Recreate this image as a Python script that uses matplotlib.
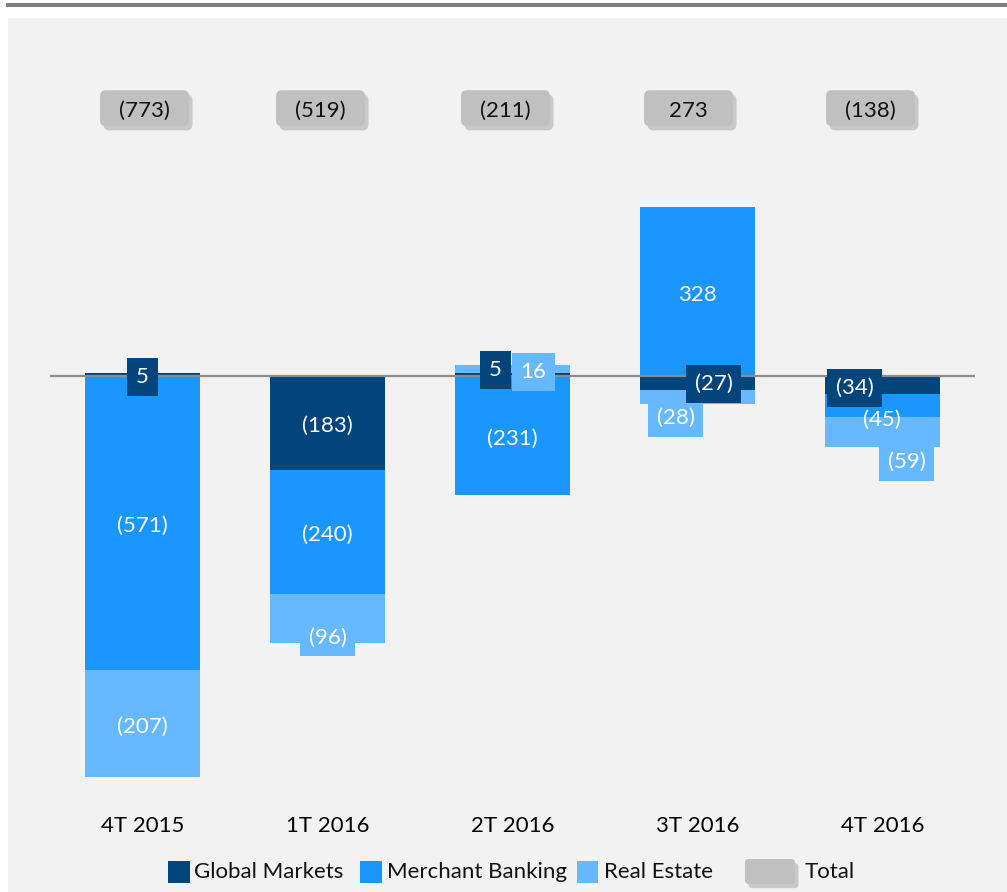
import matplotlib
matplotlib.use('Agg')
import matplotlib.pyplot as plt
import matplotlib.patheffects as pe
from matplotlib.patches import Rectangle, FancyBboxPatch
from matplotlib.lines import Line2D
from matplotlib.transforms import ScaledTranslation

plt.rcParams['font.family'] = ['Lato', 'DejaVu Sans']

quarters = ['4T 2015', '1T 2016', '2T 2016', '3T 2016', '4T 2016']
global_markets = [5, -183, 5, -27, -34]
merchant_banking = [-571, -240, -231, 328, -45]
real_estate = [-207, -96, 16, -28, -59]
totals = [-773, -519, -211, 273, -138]
series_names = ['Global Markets', 'Merchant Banking', 'Real Estate']
total_name = 'Total'

colors = ['#02457C', '#1A96FF', '#66B9FF']
total_color = '#C0C0C0'
W, H = 1007, 892
FS = 16

# label nudges in pixels (dx right, dy down), keyed by (quarter, series)
nudges = {(0, 0): (0, 2), (1, 2): (0, 19),
          (2, 0): (-17, -5), (2, 2): (21, 3),
          (3, 0): (16, 1), (3, 2): (-22, 21),
          (4, 0): (-28, 3), (4, 1): (-1, 15), (4, 2): (24, 30)}
# horizontal nudge of the total boxes, pixels
total_nudge = [2, -7, -7, -9, -12]


def fmt(v):
    return '(%d)' % abs(v) if v < 0 else str(v)


fig = plt.figure(figsize=(W / 100, H / 100), dpi=100, facecolor='white')
fig.patches.append(Rectangle((8 / W, 0), 1 - 8 / W, 1 - 18 / H, transform=fig.transFigure,
                             fc='#F2F2F2', ec='none', zorder=-2))
fig.lines.append(Line2D([8 / W, 1], [1 - 5 / H] * 2, transform=fig.transFigure,
                        color='#7F7F7F', lw=2.9, zorder=-2))

ax = fig.add_axes([50 / W, 1 - 788 / H, 925 / W, 700.4 / H])
ax.set_facecolor('none')
ax.set_xlim(-0.5, 4.5)
ax.set_ylim(-800, 560)
for s in ax.spines.values():
    s.set_visible(False)
ax.set_yticks([])
ax.set_xticks(range(len(quarters)))
ax.set_xticklabels(quarters, fontsize=FS, color='black')
ax.tick_params(axis='x', length=0, pad=20)

width = 0.62
pos = [0] * len(quarters)
neg = [0] * len(quarters)
mids = {}
for j, vals in enumerate([global_markets, merchant_banking, real_estate]):
    for i, v in enumerate(vals):
        base = pos[i] if v >= 0 else neg[i]
        ax.bar(i, v, width, bottom=base, color=colors[j], zorder=2)
        mids[(i, j)] = base + v / 2
        if v >= 0:
            pos[i] += v
        else:
            neg[i] += v

ax.axhline(0, color='#8C8C8C', lw=1.6, zorder=3)

# labels: real estate first, global markets on top
for j, vals in [(2, real_estate), (1, merchant_banking), (0, global_markets)]:
    for i, v in enumerate(vals):
        dx, dy = nudges.get((i, j), (0, 3))
        box = None if j == 1 else dict(boxstyle='square,pad=0.4', fc=colors[j], ec='none')
        ax.annotate(fmt(v), (i, mids[(i, j)]), xytext=(dx, -dy), textcoords='offset pixels',
                    ha='center', va='center', fontsize=FS, color='white', bbox=box,
                    zorder=5 + (2 - j))

shadow = [pe.SimplePatchShadow(offset=(2.5, -3), shadow_rgbFace='#8A8A8A', alpha=0.4), pe.Normal()]
for i, t in enumerate(totals):
    tr = fig.dpi_scale_trans + ScaledTranslation(i, 520, ax.transData)
    cx = total_nudge[i] / 100
    p = FancyBboxPatch((cx - 0.445, -0.18), 0.89, 0.36, boxstyle='round,pad=0,rounding_size=0.06',
                       fc=total_color, ec='none', transform=tr, zorder=6)
    p.set_path_effects(shadow)
    ax.add_patch(p)
    ax.text(cx, -0.03, fmt(t), transform=tr, ha='center', va='center', fontsize=FS,
            color='#111111', zorder=7)

# legend
ly = 1 - 872 / H
for x0, x1, tx, name, c in zip([168, 360, 577], [190, 382, 598], [194, 387, 604],
                               series_names, colors):
    fig.patches.append(Rectangle((x0 / W, ly - 11 / H), (x1 - x0) / W, 22 / H,
                                 transform=fig.transFigure, fc=c, ec='none'))
    fig.text(tx / W, ly, name, ha='left', va='center', fontsize=FS, color='#111111')
tp = FancyBboxPatch((745 / W, ly - 12 / H), 50 / W, 25 / H,
                    boxstyle='round,pad=0,rounding_size=0.004', transform=fig.transFigure,
                    fc=total_color, ec='none')
tp.set_path_effects(shadow)
fig.patches.append(tp)
fig.text(805 / W, ly, total_name, ha='left', va='center', fontsize=FS, color='#111111')

fig.savefig('out.png', dpi=100, facecolor=fig.get_facecolor())
